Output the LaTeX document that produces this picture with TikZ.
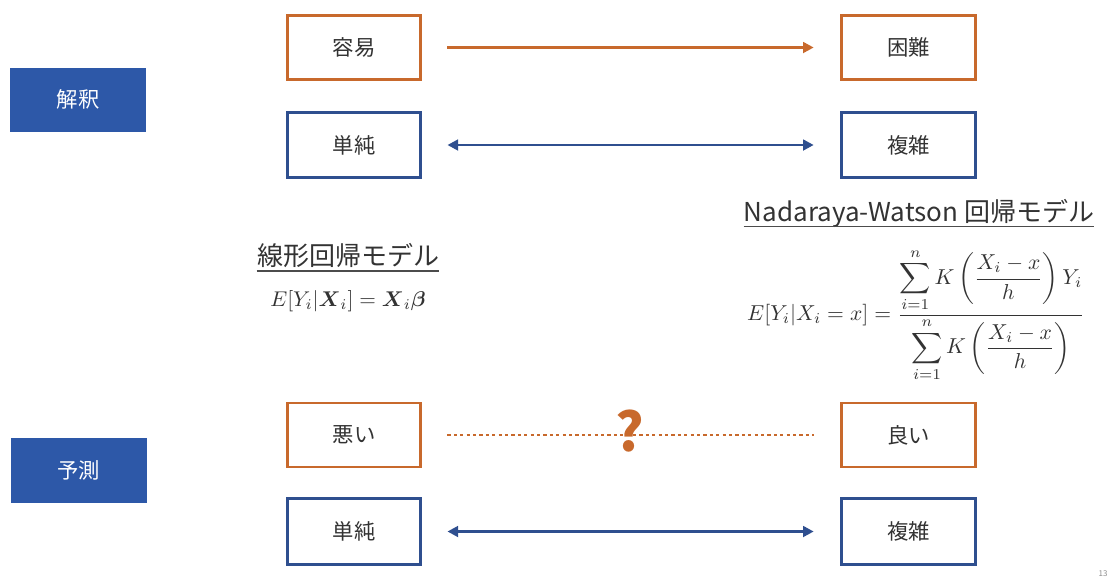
\documentclass[tikz,border=0pt]{standalone}
\usepackage{fontspec}
\usepackage{amsmath}
\usepackage{graphicx}
\setmainfont{Noto Sans CJK JP}
\usetikzlibrary{arrows.meta}
\definecolor{myorange}{HTML}{C8692C}
\definecolor{myblue}{HTML}{2F4F8F}
\definecolor{fillblue}{HTML}{2D58A8}
\definecolor{txtgray}{HTML}{333333}
\tikzset{
  catbox/.style={fill=fillblue, draw=none, minimum width=102pt, minimum height=48pt, text=white, font=\fontsize{16}{18}\selectfont},
  obox/.style={draw=myorange, line width=2.2pt, fill=white, minimum width=100pt, minimum height=48pt, text=txtgray, font=\fontsize{16}{18}\selectfont},
  bbox/.style={draw=myblue, line width=2.2pt, fill=white, minimum width=100pt, minimum height=49pt, text=txtgray, font=\fontsize{16}{18}\selectfont},
  oarrow/.style={draw=myorange, line width=2pt, -{Triangle[length=8pt,width=8pt]}, shorten <=19pt, shorten >=20pt},
  barrow/.style={draw=myblue, line width=2pt, {Triangle[length=8pt,width=8pt]}-{Triangle[length=8pt,width=8pt]}, shorten <=19pt, shorten >=20pt},
  dotline/.style={draw=myorange, line width=2.2pt, dash pattern=on 2.4pt off 2.4pt, shorten <=19pt, shorten >=20pt},
  titletext/.style={inner sep=0pt, text=txtgray, font=\fontsize{19.5}{22}\selectfont},
  uline/.style={line width=1.3pt, draw=black!70}
}
\begin{document}
\begin{tikzpicture}[x=0.75pt,y=-0.75pt]
\useasboundingbox (0,0) rectangle (1118,583);
% category boxes
\node[catbox] (kai) at (78,99.5) {解釈};
\node[catbox, minimum height=49pt] (yos) at (78.5,470.5) {予測};
% top rows
\node[obox] (easy) at (354,47.5) {容易};
\node[obox] (hard) at (908.5,47.5) {困難};
\node[bbox] (simp1) at (354,145) {単純};
\node[bbox] (comp1) at (908.5,145) {複雑};
\draw[oarrow] (easy) -- (hard);
\draw[barrow] (simp1) -- (comp1);
% bottom rows
\node[obox] (bad) at (354,435) {悪い};
\node[obox] (good) at (908.5,435) {良い};
\node[bbox] (simp2) at (354,531.5) {単純};
\node[bbox] (comp2) at (908.5,531.5) {複雑};
\draw[dotline] (bad) -- (good);
\node[text=myorange, inner sep=0pt, font=\fontsize{40}{42}\bfseries] (q) at (630,431) {?};
\draw[barrow] (simp2) -- (comp2);
% titles
\node[titletext] (lin) at (348,256) {線形回帰モデル};
\draw[uline] ([yshift=-4pt]lin.base west) -- ([yshift=-4pt]lin.base east);
\node[titletext] (nw) at (919,213) {Nadaraya-Watson 回帰モデル};
\draw[uline] ([yshift=-4pt]nw.base west) -- ([yshift=-4pt]nw.base east);
% formulas
\node[inner sep=0pt, text=txtgray] (f1) at (348,301) {\scalebox{1.6}{$E[Y_i|\boldsymbol{X}_i]=\boldsymbol{X}_i\boldsymbol{\beta}$}};
\node[inner sep=0pt, text=txtgray] (f2) at (916,315) {\scalebox{1.62}{$\displaystyle E[Y_i|X_i=x]=\frac{\displaystyle\sum_{i=1}^{n}K\left(\frac{X_i-x}{h}\right)Y_i}{\displaystyle\sum_{i=1}^{n}K\left(\frac{X_i-x}{h}\right)}$}};
% page number
\node[text=black!45, font=\fontsize{6}{7}\selectfont] (pg) at (1103,574) {13};
\end{tikzpicture}
\end{document}
